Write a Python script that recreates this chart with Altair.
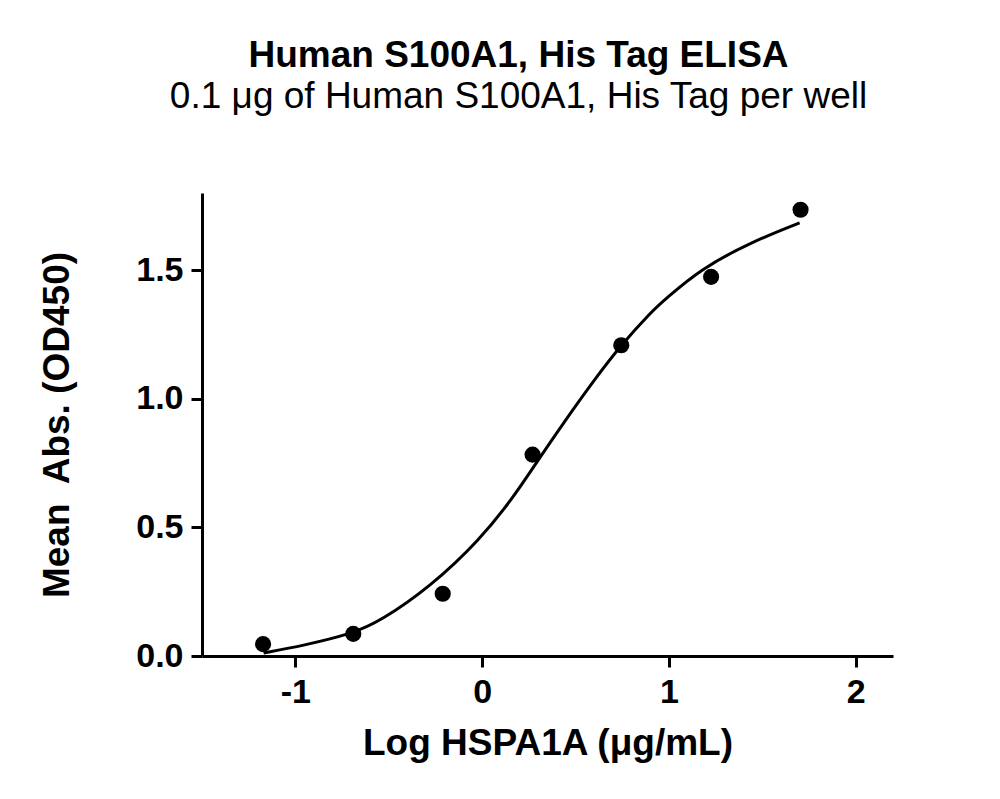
import altair as alt
import pandas as pd

# Measured points
log_conc = [-1.173, -0.690, -0.211, 0.270, 0.745, 1.226, 1.705]
mean_abs = [0.046, 0.086, 0.242, 0.783, 1.208, 1.474, 1.735]

# Fitted curve
curve_x = [-1.170, -0.960, -0.690, -0.547, -0.279, -0.011, 0.168, 0.275, 0.436,
           0.615, 0.740, 0.901, 0.981, 1.169, 1.437, 1.700]
curve_y = [0.012, 0.040, 0.088, 0.135, 0.268, 0.452, 0.618, 0.735, 0.907,
           1.088, 1.205, 1.335, 1.387, 1.504, 1.608, 1.684]

x_ticks = [-1, 0, 1, 2]
y_ticks = [0.0, 0.5, 1.0, 1.5]

FONT = "Liberation Sans"

pts = pd.DataFrame({"x": log_conc, "y": mean_abs})
crv = pd.DataFrame({"x": curve_x, "y": curve_y})

xscale = alt.Scale(domain=[-1.5, 2.2], nice=False, zero=False)
yscale = alt.Scale(domain=[0, 1.8], nice=False)

xaxis = alt.Axis(
    title="Log HSPA1A (μg/mL)", values=x_ticks, format="d", grid=False,
    labelExpr="replace(datum.label, '\u2212', '-')",
    domainColor="black", domainWidth=3, tickColor="black", tickWidth=3, tickSize=11,
    labelFont=FONT, labelFontSize=34, labelFontWeight="bold", labelColor="black",
    labelPadding=8, titleFont=FONT, titleFontSize=37, titleFontWeight="bold",
    titleColor="black", titlePadding=16,
)
yaxis = alt.Axis(
    title="Mean\u00a0 Abs. (OD450)", values=y_ticks, format=".1f", grid=False,
    domainColor="black", domainWidth=3, tickColor="black", tickWidth=3, tickSize=11,
    labelFont=FONT, labelFontSize=34, labelFontWeight="bold", labelColor="black",
    labelPadding=8, titleFont=FONT, titleFontSize=37, titleFontWeight="bold",
    titleColor="black", titleX=-145, titleBaseline="middle",
)

line = alt.Chart(crv).mark_line(color="black", strokeWidth=3, interpolate="basis").encode(
    x=alt.X("x:Q", scale=xscale, axis=xaxis),
    y=alt.Y("y:Q", scale=yscale, axis=yaxis),
)
dots = alt.Chart(pts).mark_circle(color="black", opacity=1, size=260).encode(
    x=alt.X("x:Q", scale=xscale),
    y=alt.Y("y:Q", scale=yscale),
)

chart = (line + dots).properties(
    width=691, height=463,
    background="white",
    autosize=alt.AutoSizeParams(type="none"),
    padding={"left": 194, "top": 185, "right": 99, "bottom": 135},
    title=alt.TitleParams(
        text="Human S100A1, His Tag ELISA",
        subtitle="0.1 μg of Human S100A1, His Tag per well",
        font=FONT, fontSize=37, fontWeight="bold", color="black",
        subtitleFont=FONT, subtitleFontSize=37, subtitleFontWeight="normal",
        subtitleColor="black", subtitlePadding=4,
        anchor="middle", dx=-29, offset=77,
    ),
).configure_view(strokeWidth=0)

chart.save("out.html", embed_options={"renderer": "svg", "actions": False})
